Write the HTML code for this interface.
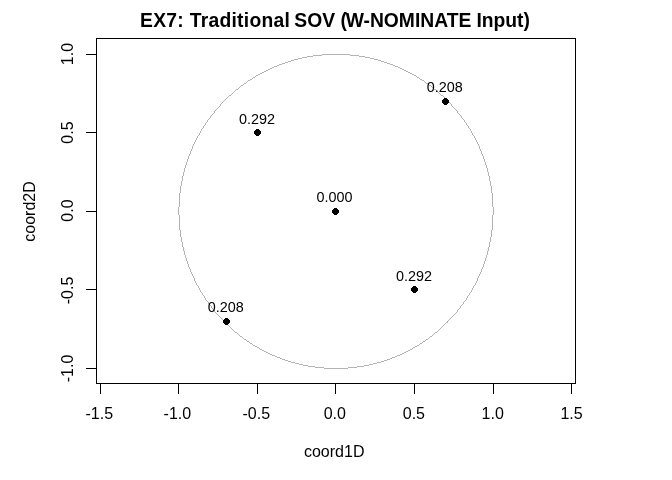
<!DOCTYPE html>
<html><head><meta charset="utf-8"><title>EX7</title>
<style>
html,body{margin:0;padding:0;background:#fff;}
body{width:672px;height:480px;overflow:hidden;}
svg{display:block;font-family:"Liberation Sans",Arial,sans-serif;fill:#000;}
.ax{font-size:16px;}
.pl{font-size:14.4px;}
.ti{font-size:19.3px;font-weight:bold;}
</style></head><body>
<svg width="672" height="480" viewBox="0 0 672 480">
<rect x="0" y="0" width="672" height="480" fill="#fff"/>

<path d="M322 54.5h28M313 55.5h9M350 55.5h9M307 56.5h6M359 56.5h6M302 57.5h5M365 57.5h5M298 58.5h4M370 58.5h4M294 59.5h4M374 59.5h4M291 60.5h3M378 60.5h3M288 61.5h3M381 61.5h3M285 62.5h3M384 62.5h3M282 63.5h3M387 63.5h3M279 64.5h3M390 64.5h3M277 65.5h2M393 65.5h2M274 66.5h3M395 66.5h3M272 67.5h2M398 67.5h2M270 68.5h2M400 68.5h2M268 69.5h2M402 69.5h2M266 70.5h2M404 70.5h2M264 71.5h2M406 71.5h2M262 72.5h2M408 72.5h2M260 73.5h2M410 73.5h2M258 74.5h2M412 74.5h2M256 75.5h2M414 75.5h2M253 77.5h2M417 77.5h2M250 79.5h2M420 79.5h2M248 80.5h2M422 80.5h2M244 83.5h2M426 83.5h2M241 85.5h2M429 85.5h2M236 89.5h2M434 89.5h2M229 95.5h2M441 95.5h2M224 322.5h2M446 322.5h2M235 332.5h2M435 332.5h2M240 336.5h2M430 336.5h2M244 339.5h2M426 339.5h2M247 341.5h2M423 341.5h2M250 343.5h2M420 343.5h2M253 345.5h2M417 345.5h2M255 346.5h2M415 346.5h2M257 347.5h2M413 347.5h2M260 349.5h2M410 349.5h2M262 350.5h2M408 350.5h2M264 351.5h2M406 351.5h2M266 352.5h2M404 352.5h2M268 353.5h2M402 353.5h2M270 354.5h2M400 354.5h2M272 355.5h3M397 355.5h3M275 356.5h2M395 356.5h2M277 357.5h3M392 357.5h3M280 358.5h2M390 358.5h2M282 359.5h3M387 359.5h3M285 360.5h3M384 360.5h3M288 361.5h3M381 361.5h3M291 362.5h4M377 362.5h4M295 363.5h4M373 363.5h4M299 364.5h4M369 364.5h4M303 365.5h5M364 365.5h5M308 366.5h7M357 366.5h7M315 367.5h9M348 367.5h9M324 368.5h24M255.5 76v1M416.5 76v1M252.5 78v1M252.5 344v1M419.5 78v1M419.5 344v1M247.5 81v1M424.5 81v1M246.5 82v1M246.5 340v1M425.5 82v1M425.5 340v1M243.5 84v1M243.5 338v1M428.5 84v1M428.5 338v1M240.5 86v1M431.5 86v1M239.5 87v1M239.5 335v1M432.5 87v1M432.5 335v1M238.5 88v1M238.5 334v1M433.5 88v1M433.5 334v1M235.5 90v1M436.5 90v1M234.5 91v1M234.5 331v1M437.5 91v1M437.5 331v1M233.5 92v1M233.5 330v1M438.5 92v1M438.5 330v1M232.5 93v1M232.5 329v1M439.5 93v1M439.5 329v1M231.5 94v1M231.5 328v1M440.5 94v1M440.5 328v1M228.5 96v1M228.5 325v1M443.5 96v1M443.5 325v1M227.5 97v1M227.5 324v1M444.5 97v1M444.5 324v1M226.5 98v1M226.5 323v1M445.5 98v1M445.5 323v1M225.5 99v1M446.5 99v1M224.5 100v1M224.5 321v1M447.5 100v1M447.5 321v1M223.5 101v1M223.5 320v1M448.5 101v1M448.5 320v1M222.5 102v1M222.5 319v1M449.5 102v1M449.5 319v1M221.5 103v1M221.5 318v1M450.5 103v1M450.5 318v1M220.5 104v2M220.5 317v1M451.5 104v2M451.5 317v1M219.5 106v1M219.5 316v1M452.5 106v1M452.5 316v1M218.5 107v1M218.5 315v1M453.5 107v1M453.5 315v1M217.5 108v1M217.5 314v1M454.5 108v1M454.5 314v1M216.5 109v1M216.5 313v1M455.5 109v1M455.5 313v1M215.5 110v1M215.5 312v1M456.5 110v1M456.5 312v1M214.5 111v2M214.5 310v2M457.5 111v2M457.5 310v2M213.5 113v1M213.5 309v1M458.5 113v1M458.5 309v1M212.5 114v1M212.5 308v1M459.5 114v1M459.5 308v1M211.5 115v1M211.5 306v2M460.5 115v1M460.5 306v2M210.5 116v2M210.5 305v1M461.5 116v2M461.5 305v1M209.5 118v1M209.5 304v1M462.5 118v1M462.5 304v1M208.5 119v1M208.5 302v2M463.5 119v1M463.5 302v2M207.5 120v2M207.5 301v1M464.5 120v2M464.5 301v1M206.5 122v1M206.5 300v1M465.5 122v1M465.5 300v1M205.5 123v2M205.5 298v2M466.5 123v2M466.5 298v2M204.5 125v1M204.5 296v2M467.5 125v1M467.5 296v2M203.5 126v2M203.5 295v1M468.5 126v2M468.5 295v1M202.5 128v1M202.5 293v2M469.5 128v1M469.5 293v2M201.5 129v2M201.5 292v1M470.5 129v2M470.5 292v1M200.5 131v2M200.5 290v2M471.5 131v2M471.5 290v2M199.5 133v2M199.5 288v2M472.5 133v2M472.5 288v2M198.5 135v1M198.5 286v2M473.5 135v1M473.5 286v2M197.5 136v2M197.5 285v1M474.5 136v2M474.5 285v1M196.5 138v2M196.5 283v2M475.5 138v2M475.5 283v2M195.5 140v2M195.5 281v2M476.5 140v2M476.5 281v2M194.5 142v2M194.5 278v3M477.5 142v2M477.5 278v3M193.5 144v2M193.5 276v2M478.5 144v2M478.5 276v2M192.5 146v3M192.5 274v2M479.5 146v3M479.5 274v2M191.5 149v2M191.5 272v2M480.5 149v2M480.5 272v2M190.5 151v3M190.5 269v3M481.5 151v3M481.5 269v3M189.5 154v2M189.5 267v2M482.5 154v2M482.5 267v2M188.5 156v3M188.5 264v3M483.5 156v3M483.5 264v3M187.5 159v3M187.5 261v3M484.5 159v3M484.5 261v3M186.5 162v3M186.5 258v3M485.5 162v3M485.5 258v3M185.5 165v3M185.5 255v3M486.5 165v3M486.5 255v3M184.5 168v4M184.5 251v4M487.5 168v4M487.5 251v4M183.5 172v4M183.5 247v4M488.5 172v4M488.5 247v4M182.5 176v5M182.5 242v5M489.5 176v5M489.5 242v5M181.5 181v5M181.5 237v5M490.5 181v5M490.5 237v5M180.5 186v7M180.5 230v7M491.5 186v7M491.5 230v7M179.5 193v14M179.5 215v15M492.5 193v14M492.5 215v15M178.5 207v8M493.5 207v8M229.5 326v1M442.5 326v1M230.5 327v1M441.5 327v1M237.5 333v1M434.5 333v1M242.5 337v1M429.5 337v1M249.5 342v1M422.5 342v1M259.5 348v1M412.5 348v1" fill="none" stroke="#b3b3b3" stroke-width="1" shape-rendering="crispEdges"/>
<g stroke="#000" stroke-width="1" fill="none" shape-rendering="crispEdges">
<rect x="96.5" y="38.5" width="479" height="345"/>
<line x1="100.5" y1="383" x2="100.5" y2="394"/>
<line x1="178.5" y1="383" x2="178.5" y2="394"/>
<line x1="257.5" y1="383" x2="257.5" y2="394"/>
<line x1="335.5" y1="383" x2="335.5" y2="394"/>
<line x1="414.5" y1="383" x2="414.5" y2="394"/>
<line x1="493.5" y1="383" x2="493.5" y2="394"/>
<line x1="571.5" y1="383" x2="571.5" y2="394"/>
<line x1="86" y1="54.5" x2="96" y2="54.5"/>
<line x1="86" y1="132.5" x2="96" y2="132.5"/>
<line x1="86" y1="211.5" x2="96" y2="211.5"/>
<line x1="86" y1="289.5" x2="96" y2="289.5"/>
<line x1="86" y1="368.5" x2="96" y2="368.5"/>
</g>
<text class="ax" x="99.3" y="419" text-anchor="middle">-1.5</text>
<text class="ax" x="177.4" y="419" text-anchor="middle">-1.0</text>
<text class="ax" x="256.3" y="419" text-anchor="middle">-0.5</text>
<text class="ax" x="334.8" y="419" text-anchor="middle">0.0</text>
<text class="ax" x="413.9" y="419" text-anchor="middle">0.5</text>
<text class="ax" x="492.7" y="419" text-anchor="middle">1.0</text>
<text class="ax" x="571.5" y="419" text-anchor="middle">1.5</text>
<text class="ax" transform="translate(73,54.0) rotate(-90)" text-anchor="middle">1.0</text>
<text class="ax" transform="translate(73,132.5) rotate(-90)" text-anchor="middle">0.5</text>
<text class="ax" transform="translate(73,210.5) rotate(-90)" text-anchor="middle">0.0</text>
<text class="ax" transform="translate(73,290.5) rotate(-90)" text-anchor="middle">-0.5</text>
<text class="ax" transform="translate(73,368.5) rotate(-90)" text-anchor="middle">-1.0</text>
<text class="ax" x="334.2" y="457" text-anchor="middle">coord1D</text>
<text class="ax" transform="translate(35,211.5) rotate(-90)" text-anchor="middle">coord2D</text>
<text class="ti" y="27"><tspan x="140.05" letter-spacing="0.25">EX7: </tspan><tspan x="189.67" letter-spacing="0.27">Traditional </tspan><tspan x="294.3">SOV </tspan><tspan x="340.4">(</tspan><tspan x="345.7">W-NOMINATE </tspan><tspan x="476.4">Input)</tspan></text>
<path shape-rendering="crispEdges" d="M444 98h3v1h1v1h1v3h-1v1h-1v1h-3v-1h-1v-1h-1v-3h1v-1h1z"/>
<text class="pl" x="444.7" y="91.8" text-anchor="middle">0.208</text>
<path shape-rendering="crispEdges" d="M256 129h3v1h1v1h1v3h-1v1h-1v1h-3v-1h-1v-1h-1v-3h1v-1h1z"/>
<text class="pl" x="257.0" y="123.7" text-anchor="middle">0.292</text>
<path shape-rendering="crispEdges" d="M334 208h3v1h1v1h1v3h-1v1h-1v1h-3v-1h-1v-1h-1v-3h1v-1h1z"/>
<text class="pl" x="334.6" y="201.8" text-anchor="middle">0.000</text>
<path shape-rendering="crispEdges" d="M413 286h3v1h1v1h1v3h-1v1h-1v1h-3v-1h-1v-1h-1v-3h1v-1h1z"/>
<text class="pl" x="414.0" y="280.7" text-anchor="middle">0.292</text>
<path shape-rendering="crispEdges" d="M225 318h3v1h1v1h1v3h-1v1h-1v1h-3v-1h-1v-1h-1v-3h1v-1h1z"/>
<text class="pl" x="225.8" y="311.8" text-anchor="middle">0.208</text>
</svg></body></html>
